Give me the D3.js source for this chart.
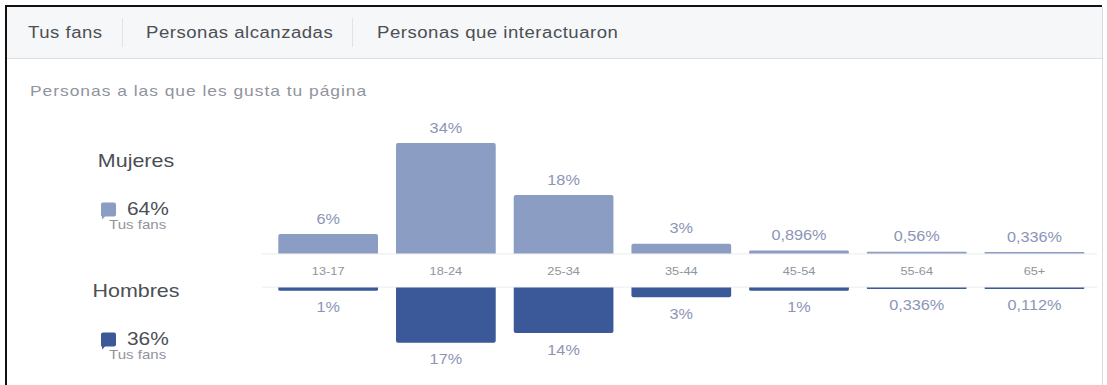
<!DOCTYPE html>
<html lang="es">
<head>
<meta charset="utf-8">
<title>Tus fans</title>
<script src="https://cdn.jsdelivr.net/npm/d3@7"></script>
<style>
  html, body { margin: 0; padding: 0; background: #ffffff; }
  svg { display: block; }
  text { font-family: "Liberation Sans", Arial, Helvetica, sans-serif; }
</style>
</head>
<body>
<svg id="chart" width="1107" height="385"></svg>
<script>
// Age ranges and the share of fans (%) in each, by gender
const categories = ["13-17", "18-24", "25-34", "35-44", "45-54", "55-64", "65+"];
const mujeres = [6, 34, 18, 3, 0.896, 0.56, 0.336];
const hombres = [1, 17, 14, 3, 1, 0.336, 0.112];
const totals = [
  { label: "Mujeres", value: 64 },
  { label: "Hombres", value: 36 }
];
const tabs = ["Tus fans", "Personas alcanzadas", "Personas que interactuaron"];
const subtitle = "Personas a las que les gusta tu página";

const COLORS = { mujeres: "#8b9dc3", hombres: "#3b5998" };
const SX = 1.16; // horizontal widening of the UI lettering

const svg = d3.select("#chart");

// Text helper: places a string at (x, y) with the wide UI lettering
function label(g, x, y, str, size, fill, anchor = "start", spacing = 0) {
  return g.append("text")
    .attr("transform", `translate(${x},${y}) scale(${SX},1)`)
    .attr("text-anchor", anchor)
    .attr("font-size", size)
    .attr("letter-spacing", spacing)
    .attr("fill", fill)
    .text(str);
}

// Spanish decimal comma
const fmt = v => String(v).replace(".", ",") + "%";

// ---------- panel frame and tab bar ----------
svg.append("rect").attr("x", 7).attr("y", 7).attr("width", 1095).attr("height", 51).attr("fill", "#f6f7f9");
svg.append("rect").attr("x", 7).attr("y", 58).attr("width", 1095).attr("height", 1).attr("fill", "#dddfe2");
svg.append("rect").attr("x", 1102).attr("y", 7).attr("width", 1).attr("height", 378).attr("fill", "#d6d9dd");
svg.append("rect").attr("x", 5).attr("y", 5).attr("width", 2).attr("height", 380).attr("fill", "#111");
svg.append("rect").attr("x", 5).attr("y", 5).attr("width", 1097).attr("height", 2).attr("fill", "#111");

const tabX = [28, 146, 377];
const sepX = [122, 352];
const tabG = svg.append("g");
tabs.forEach((t, i) => label(tabG, tabX[i], 37.5, t, 16, "#4b4f56", "start", 0.45));
sepX.forEach(x => tabG.append("rect").attr("x", x).attr("y", 18).attr("width", 1).attr("height", 29).attr("fill", "#e1e3e7"));

// ---------- subtitle ----------
label(svg, 30, 95.5, subtitle, 15, "#90949c", "start", 0.85);

// ---------- gender totals ----------
const legendG = svg.append("g");
const legendY = [166.5, 296.5];
totals.forEach((d, i) => {
  const y0 = legendY[i];
  const color = i === 0 ? COLORS.mujeres : COLORS.hombres;
  label(legendG, 136, y0, d.label, 18.5, "#4b4f56", "middle");
  // speech-bubble style swatch
  const sx = 101, sy = y0 + 36;
  legendG.append("path")
    .attr("d", `M${sx + 2},${sy} h11 a2,2 0 0 1 2,2 v10 a2,2 0 0 1 -2,2 h-9 l-3,3 v-3 a1,1 0 0 1 -1,-1 v-11 a2,2 0 0 1 2,-2 z`)
    .attr("fill", color);
  label(legendG, 127, y0 + 48, d.value + "%", 18, "#4b4f56");
  label(legendG, 109, y0 + 62, "Tus fans", 13, "#90949c");
});

// ---------- age bars ----------
const x = d3.scaleBand()
  .domain(categories)
  .range([278.3, 1084.3])
  .paddingInner(0.153)
  .paddingOuter(0);

const y = d3.scaleLinear().domain([0, 34]).range([0, 110.5]);

const upperBase = 253.5;  // bottom edge of the women's bars
const lowerBase = 287.5;  // top edge of the men's bars
const minH = 1.4;

// label strip between the two bar rows
const strip = svg.append("g");
strip.append("rect").attr("x", 262).attr("y", upperBase).attr("width", 835).attr("height", lowerBase - upperBase).attr("fill", "#ffffff");
strip.append("rect").attr("x", 262).attr("y", upperBase).attr("width", 835).attr("height", 0.8).attr("fill", "#e6e8ec");
strip.append("rect").attr("x", 262).attr("y", lowerBase - 0.8).attr("width", 835).attr("height", 0.8).attr("fill", "#e6e8ec");

// bar with rounded outer corners; dir = -1 grows upward, +1 downward
function barPath(x0, base, w, h, dir) {
  const r = Math.min(2, h / 2);
  const end = base + dir * h;
  if (dir < 0) {
    return `M${x0},${base} V${end + r} Q${x0},${end} ${x0 + r},${end} H${x0 + w - r} Q${x0 + w},${end} ${x0 + w},${end + r} V${base} Z`;
  }
  return `M${x0},${base} V${end - r} Q${x0},${end} ${x0 + r},${end} H${x0 + w - r} Q${x0 + w},${end} ${x0 + w},${end - r} V${base} Z`;
}

const bars = svg.append("g");
const labels = svg.append("g");

categories.forEach((c, i) => {
  const bx = x(c), bw = x.bandwidth(), cx = bx + bw / 2;

  const hm = Math.max(y(mujeres[i]), minH);
  bars.append("path").attr("d", barPath(bx, upperBase, bw, hm, -1)).attr("fill", COLORS.mujeres);
  label(labels, cx, upperBase - hm - 10.5, fmt(mujeres[i]), 14, "#8c95b7", "middle");

  const hh = Math.max(y(hombres[i]), minH);
  bars.append("path").attr("d", barPath(bx, lowerBase, bw, hh, 1)).attr("fill", COLORS.hombres);
  label(labels, cx, lowerBase + hh + 21.5, fmt(hombres[i]), 14, "#8c95b7", "middle");

  label(labels, cx, 275, c, 11, "#90949c", "middle");
});
</script>
</body>
</html>
